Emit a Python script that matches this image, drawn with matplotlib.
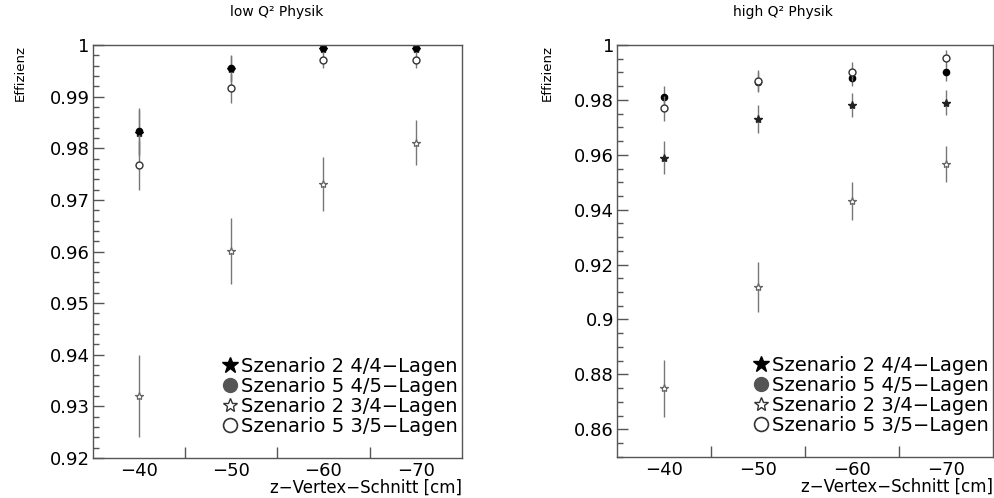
import matplotlib
matplotlib.use("Agg")
import matplotlib.pyplot as plt
from matplotlib.lines import Line2D
from matplotlib.ticker import MultipleLocator, FuncFormatter, FixedLocator

plt.rcParams['font.family'] = ['DejaVu Sans']

# z-vertex cut positions [cm]
z_cut = [-40, -50, -60, -70]
z_labels = ["\u221240", "\u221250", "\u221260", "\u221270"]

series_labels = [
    "Szenario 2 4/4\u2212Lagen",
    "Szenario 5 4/5\u2212Lagen",
    "Szenario 2 3/4\u2212Lagen",
    "Szenario 5 3/5\u2212Lagen",
]

# low Q^2 physics efficiencies
low_sz2_44 = [0.9830, 0.9953, 0.9993, 0.9993]
low_sz2_44_err = [0.0045, 0.0025, 0.0008, 0.0008]
low_sz5_45 = [0.9833, 0.9956, 0.9995, 0.9995]
low_sz5_45_err = [0.0045, 0.0025, 0.0008, 0.0008]
low_sz2_34 = [0.9320, 0.9601, 0.9731, 0.9811]
low_sz2_34_err = [0.0080, 0.0063, 0.0052, 0.0043]
low_sz5_35 = [0.9767, 0.9916, 0.9971, 0.9971]
low_sz5_35_err = [0.0048, 0.0028, 0.0015, 0.0015]

# high Q^2 physics efficiencies
high_sz2_44 = [0.9590, 0.9730, 0.9781, 0.9790]
high_sz2_44_err = [0.0060, 0.0050, 0.0045, 0.0045]
high_sz5_45 = [0.9812, 0.9866, 0.9879, 0.9900]
high_sz5_45_err = [0.0040, 0.0035, 0.0030, 0.0030]
high_sz2_34 = [0.8749, 0.9119, 0.9432, 0.9566]
high_sz2_34_err = [0.0103, 0.0090, 0.0070, 0.0066]
high_sz5_35 = [0.9769, 0.9870, 0.9903, 0.9952]
high_sz5_35_err = [0.0045, 0.0040, 0.0035, 0.0030]

styles = [
    dict(marker="*", mfc="#222222", mec="#222222", ms=6),
    dict(marker="o", mfc="black", mec="black", ms=4.5),
    dict(marker="*", mfc="white", mec="#666666", ms=6, mew=0.9),
    dict(marker="o", mfc="white", mec="#333333", ms=5, mew=1.0),
]
legend_styles = [
    dict(marker="*", mfc="black", mec="black", ms=12),
    dict(marker="o", mfc="#555555", mec="#555555", ms=10),
    dict(marker="*", mfc="white", mec="#333333", ms=10, mew=1.0),
    dict(marker="o", mfc="white", mec="#333333", ms=10, mew=1.2),
]

fig = plt.figure(figsize=(9.94, 4.98), dpi=100)
W, H = 994.0, 498.0


def axes_px(x0, x1, ytop, ybot):
    return fig.add_axes([x0 / W, 1 - ybot / H, (x1 - x0) / W, (ybot - ytop) / H])


def style_axes(ax, ylim, major, minor):
    ax.set_xlim(-35, -75)
    ax.set_ylim(*ylim)
    ax.xaxis.set_major_locator(FixedLocator(z_cut))
    ax.set_xticklabels(z_labels)
    ax.xaxis.set_minor_locator(FixedLocator([-45, -55, -65]))
    ax.yaxis.set_major_locator(MultipleLocator(major))
    ax.yaxis.set_minor_locator(MultipleLocator(minor))
    ax.yaxis.set_major_formatter(FuncFormatter(lambda v, p: "%g" % round(v, 4)))
    ax.tick_params(axis="x", which="major", length=0, pad=3, labelsize=13)
    ax.tick_params(axis="x", which="minor", direction="in", length=8, width=1, color="#555555")
    ax.tick_params(axis="y", which="major", direction="in", length=8, width=1,
                   color="#555555", labelsize=13, pad=2)
    ax.tick_params(axis="y", which="minor", direction="in", length=4, width=1, color="#555555")
    for s in ax.spines.values():
        s.set_color("#555555")
        s.set_linewidth(1.0)


def draw_panel(ax, data):
    for (vals, errs), st in zip(data, styles):
        ax.errorbar(z_cut, vals, yerr=errs, fmt="none", ecolor="#777777", elinewidth=1.0, capsize=0)
        ax.plot(z_cut, vals, linestyle="none", **st)
    handles = [Line2D([], [], linestyle="none", **st) for st in legend_styles]
    ax.legend(handles, series_labels, loc="lower right", bbox_to_anchor=(1.025, 0.02),
              frameon=False, fontsize=14, handlelength=0.8, handletextpad=0.15,
              labelspacing=0.05, borderpad=0.2)


ax1 = axes_px(92.5, 462, 45, 458)
style_axes(ax1, (0.92, 1.0), 0.01, 0.002)
draw_panel(ax1, [(low_sz2_44, low_sz2_44_err), (low_sz5_45, low_sz5_45_err),
                 (low_sz2_34, low_sz2_34_err), (low_sz5_35, low_sz5_35_err)])

ax2 = axes_px(616.7, 993, 45, 456.7)
style_axes(ax2, (0.85, 1.0), 0.02, 0.005)
draw_panel(ax2, [(high_sz2_44, high_sz2_44_err), (high_sz5_45, high_sz5_45_err),
                 (high_sz2_34, high_sz2_34_err), (high_sz5_35, high_sz5_35_err)])

for ax, xt in ((ax1, 20), (ax2, 547)):
    fig.text(xt / W, 1 - 45 / H, "Effizienz", rotation=90, ha="center", va="top", fontsize=9.5)
    ax.set_xlabel("z\u2212Vertex\u2212Schnitt [cm]", fontsize=12, loc="right", labelpad=-1)

fig.text(277 / W, 1 - 12 / H, "low Q\u00b2 Physik", ha="center", va="center", fontsize=10)
fig.text(783 / W, 1 - 12 / H, "high Q\u00b2 Physik", ha="center", va="center", fontsize=10)

fig.savefig("out.png", dpi=100)
